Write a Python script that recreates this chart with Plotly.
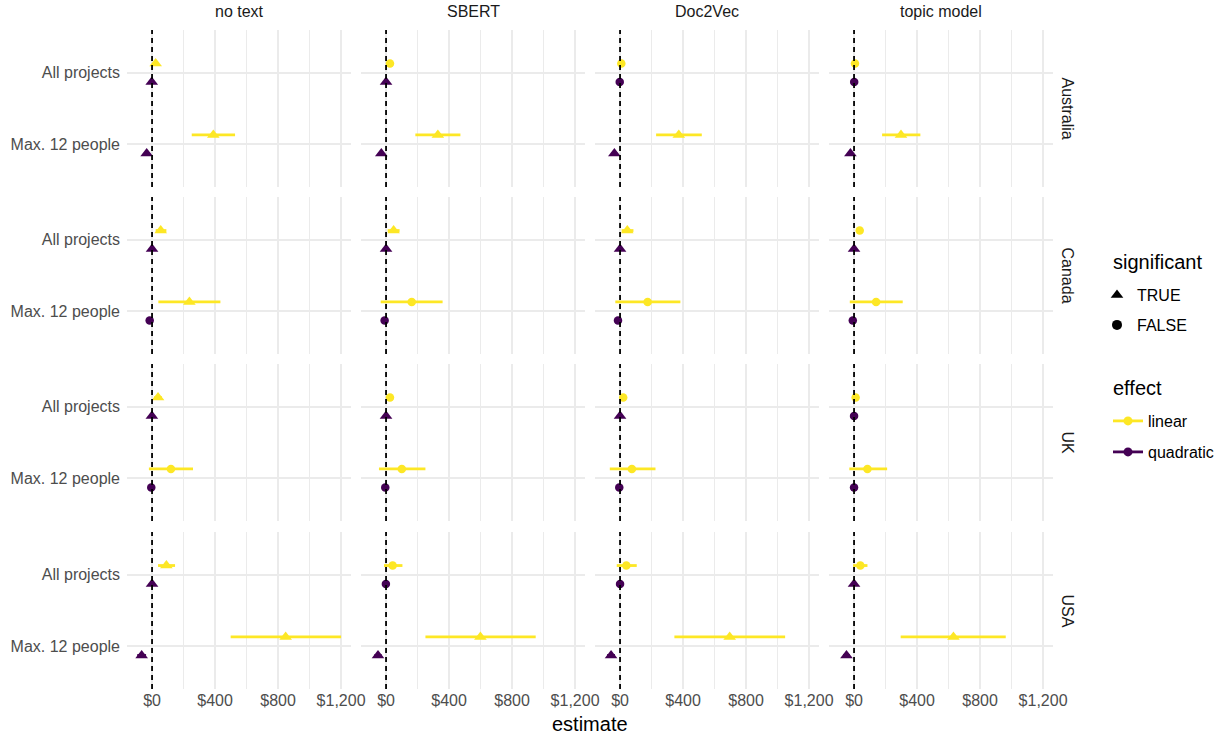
import plotly.graph_objects as go

countries = ["Australia", "Canada", "UK", "USA"]
models = ["no text", "SBERT", "Doc2Vec", "topic model"]
samples = ["All projects", "Max. 12 people"]
x_ticks = [0, 400, 800, 1200]
x_tick_labels = ["$0", "$400", "$800", "$1,200"]

# rows = country, cols = model
lin_all_est = [[23, 25, 8, 6], [55, 48, 46, 36], [38, 25, 20, 10], [91, 42, 40, 40]]
lin_all_lo = [[10, 12, -5, -6], [23, 10, 10, 22], [14, 12, 7, -3], [38, -13, -21, -6]]
lin_all_hi = [[36, 38, 21, 18], [91, 86, 85, 50], [62, 38, 33, 23], [146, 104, 106, 85]]
lin_all_sig = [[True, False, False, False], [True, True, True, False],
               [True, False, False, False], [True, False, False, False]]

lin_max_est = [[389, 329, 373, 298], [237, 163, 175, 140], [120, 100, 75, 85], [848, 599, 696, 631]]
lin_max_lo = [[252, 186, 229, 178], [40, -34, -30, -27], [-20, -45, -65, -30], [499, 250, 345, 296]]
lin_max_hi = [[527, 472, 519, 421], [434, 359, 383, 309], [260, 250, 225, 210], [1200, 950, 1048, 963]]
lin_max_sig = [[True, True, True, True], [True, False, False, False],
               [False, False, False, False], [True, True, True, True]]

quad_all_est = [[-2, 0, -2, 1], [0, 0, 0, 0], [-1, 0, 0, 0], [0, -1, 0, 0]]
quad_all_lo = [[-5, -3, -5, -2], [-3, -3, -3, -3], [-4, -3, -3, -3], [-3, -4, -3, -3]]
quad_all_hi = [[1, 3, 1, 4], [3, 3, 3, 3], [2, 3, 3, 3], [3, 2, 3, 3]]
quad_all_sig = [[True, True, False, False], [True, True, True, True],
                [True, True, True, False], [True, False, False, True]]

quad_max_est = [[-34, -30, -36, -23], [-15, -9, -13, -8], [-5, -5, -5, 0], [-66, -51, -57, -48]]
quad_max_lo = [[-52, -46, -54, -38], [-30, -22, -27, -20], [-16, -16, -16, -10], [-94, -74, -82, -70]]
quad_max_hi = [[-16, -14, -18, -8], [0, 4, 1, 4], [6, 6, 6, 10], [-38, -28, -32, -26]]
quad_max_sig = [[True, True, True, True], [False, False, False, False],
                [False, False, False, False], [True, True, True, True]]

YELLOW = "#FDE725"
PURPLE = "#440154"
GRID = "#EBEBEB"
TXT = "#4D4D4D"
STRIP = "#1A1A1A"
FONT = "Liberation Sans, Arial, sans-serif"
AX_SIZE = 16
TITLE_SIZE = 20

W, H = 1228, 738          # design coordinates
W_LAYOUT = 1243           # layout width (compensates viewport scrollbar squeeze)
col_px = [(127, 351), (361, 585), (595, 819), (829, 1053)]
row_px = [(30, 187), (197, 354), (364, 521), (532, 689)]
sample_pos = {"All projects": 2, "Max. 12 people": 1}
dodge = {"linear": 0.13, "quadratic": -0.13}

effects = [
    ("linear", YELLOW, (lin_all_est, lin_all_lo, lin_all_hi, lin_all_sig),
     (lin_max_est, lin_max_lo, lin_max_hi, lin_max_sig)),
    ("quadratic", PURPLE, (quad_all_est, quad_all_lo, quad_all_hi, quad_all_sig),
     (quad_max_est, quad_max_lo, quad_max_hi, quad_max_sig)),
]

fig = go.Figure()
layout = {}
shapes = []
for r, country in enumerate(countries):
    for c, model in enumerate(models):
        k = r * 4 + c + 1
        xa = "x" if k == 1 else f"x{k}"
        ya = "y" if k == 1 else f"y{k}"
        xkey = "xaxis" if k == 1 else f"xaxis{k}"
        ykey = "yaxis" if k == 1 else f"yaxis{k}"
        x0, x1 = col_px[c]
        y0, y1 = row_px[r]
        layout[xkey] = dict(
            domain=[x0 / W, x1 / W], anchor=ya, range=[-159, 1263],
            tickvals=x_ticks, ticktext=x_tick_labels,
            showticklabels=(r == 3), ticks="", showline=False, zeroline=False,
            showgrid=True, gridcolor=GRID, gridwidth=1.9,
            minor=dict(showgrid=True, dtick=200, tick0=0, gridcolor=GRID, gridwidth=1.0),
            tickfont=dict(size=AX_SIZE, color=TXT, family=FONT),
        )
        layout[ykey] = dict(
            domain=[1 - y1 / H, 1 - y0 / H], anchor=xa, range=[0.4, 2.6],
            tickvals=[sample_pos[s] for s in samples], ticktext=samples,
            showticklabels=(c == 0), ticks="", showline=False, zeroline=False,
            showgrid=True, gridcolor=GRID, gridwidth=1.9, ticklabelstandoff=6,
            tickfont=dict(size=AX_SIZE, color=TXT, family=FONT),
        )
        shapes.append(dict(type="line", xref=xa, yref=f"{ya} domain", x0=0, x1=0, y0=0, y1=1,
                           line=dict(color="black", width=1.8, dash="5px,4px"), layer="above"))
        for name, color, all_t, max_t in effects:
            est = [all_t[0][r][c], max_t[0][r][c]]
            lo = [all_t[1][r][c], max_t[1][r][c]]
            hi = [all_t[2][r][c], max_t[2][r][c]]
            sig = [all_t[3][r][c], max_t[3][r][c]]
            ys = [sample_pos[s] + dodge[name] for s in samples]
            fig.add_trace(go.Scatter(
                x=est, y=ys, xaxis=xa, yaxis=ya, mode="markers",
                marker=dict(color=color, size=[11 if s else 8.5 for s in sig],
                            symbol=["triangle-up" if s else "circle" for s in sig],
                            opacity=1, line=dict(width=0)),
                error_x=dict(type="data", symmetric=False,
                             array=[h - e for h, e in zip(hi, est)],
                             arrayminus=[e - l for e, l in zip(est, lo)],
                             color=color, thickness=2.8, width=0),
                showlegend=False, hoverinfo="skip",
            ))

# legend entries (one legend per entry to mimic ggplot key spacing)
legend_specs = {}
for i, (lbl, sym, ypx) in enumerate([("TRUE", "triangle-up", 295), ("FALSE", "circle", 325)]):
    lname = "legend" if i == 0 else "legend2"
    fig.add_trace(go.Scatter(x=[None], y=[None], mode="markers", name=lbl,
                             marker=dict(color="black", symbol=sym, size=10 if sym == "circle" else 11),
                             legend=lname, showlegend=True))
    legend_specs[lname] = dict(x=1097 / W, y=1 - ypx / H)
for i, (lbl, col, ypx) in enumerate([("linear", YELLOW, 421), ("quadratic", PURPLE, 452)]):
    lname = f"legend{3 + i}"
    fig.add_trace(go.Scatter(x=[None], y=[None], mode="lines+markers", name=lbl,
                             marker=dict(color=col, symbol="circle", size=9),
                             line=dict(color=col, width=2.8),
                             legend=lname, showlegend=True))
    legend_specs[lname] = dict(x=1108 / W, y=1 - ypx / H)

legend_layout = {}
for lname, pos in legend_specs.items():
    legend_layout[lname] = dict(x=pos["x"], y=pos["y"], xanchor="left", yanchor="middle",
                                font=dict(size=AX_SIZE, color="black", family=FONT),
                                bgcolor="rgba(0,0,0,0)", itemwidth=30, borderwidth=0)

annotations = []
for c, model in enumerate(models):
    x0, x1 = col_px[c]
    annotations.append(dict(text=model, x=(x0 + x1) / 2 / W, y=1 - 12 / H, xref="paper", yref="paper",
                            showarrow=False, font=dict(size=AX_SIZE, color=STRIP, family=FONT),
                            xanchor="center", yanchor="middle"))
for r, country in enumerate(countries):
    y0, y1 = row_px[r]
    annotations.append(dict(text=country, x=1067 / W, y=1 - (y0 + y1) / 2 / H, xref="paper", yref="paper",
                            showarrow=False, textangle=90, font=dict(size=AX_SIZE, color=STRIP, family=FONT),
                            xanchor="center", yanchor="middle"))
annotations.append(dict(text="estimate", x=590 / W, y=1 - 724 / H, xref="paper", yref="paper",
                        showarrow=False, font=dict(size=TITLE_SIZE, color="black", family=FONT),
                        xanchor="center", yanchor="middle"))
for txt, ypx in [("significant", 262), ("effect", 388)]:
    annotations.append(dict(text=txt, x=1111 / W, y=1 - ypx / H, xref="paper", yref="paper",
                            showarrow=False, font=dict(size=TITLE_SIZE, color="black", family=FONT),
                            xanchor="left", yanchor="middle"))

fig.update_layout(
    width=W_LAYOUT, height=H, margin=dict(l=0, r=0, t=0, b=0),
    autosize=False,
    plot_bgcolor="white", paper_bgcolor="white",
    font=dict(family=FONT),
    shapes=shapes, annotations=annotations,
    **legend_layout,
    **layout,
)

post = ("document.body.style.margin='0';document.body.style.padding='0';"
        "document.body.style.overflow='hidden';document.documentElement.style.overflow='hidden';"
        "var gd=document.getElementById('{plot_id}');"
        "Plotly.relayout(gd,{width:%d,height:%d});" % (W_LAYOUT, H))
fig.write_html("out.html", config={"displayModeBar": False, "responsive": False}, post_script=post)
